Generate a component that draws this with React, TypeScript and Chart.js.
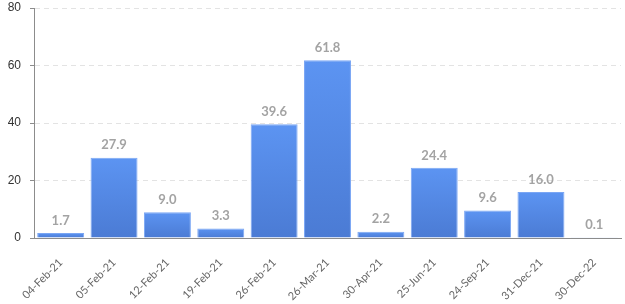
import React, { useEffect, useRef } from "react";
import { Chart, registerables } from "chart.js";

Chart.register(...registerables);

const categories = ["04-Feb-21", "05-Feb-21", "12-Feb-21", "19-Feb-21", "26-Feb-21", "26-Mar-21", "30-Apr-21", "25-Jun-21", "24-Sep-21", "31-Dec-21", "30-Dec-22"];
const values = [1.7, 27.9, 9.0, 3.3, 39.6, 61.8, 2.2, 24.4, 9.6, 16.0, 0.1];
const yTicks = [0, 20, 40, 60, 80];

const labelPlugin = {
  id: "valueLabels",
  afterDatasetsDraw(chart: any) {
    const { ctx } = chart;
    const meta = chart.getDatasetMeta(0);
    ctx.save();
    ctx.font = "bold 13px Lato";
    ctx.fillStyle = "#a3a3a3";
    ctx.textAlign = "center";
    ctx.textBaseline = "bottom";
    meta.data.forEach((bar: any, i: number) => {
      ctx.fillText(values[i].toFixed(1), bar.x, bar.y - 6);
    });
    ctx.restore();
  },
};

export default function App() {
  const ref = useRef<HTMLCanvasElement>(null);
  useEffect(() => {
    document.body.style.margin = "0";
    const chart = new Chart(ref.current!, {
      type: "bar",
      data: {
        labels: categories,
        datasets: [
          {
            data: values,
            backgroundColor: (c: any) => {
              const chart = c.chart;
              const y = chart.scales && chart.scales.y;
              if (!y || !chart.chartArea || !c.parsed || c.parsed.y === undefined) return "#5388e6";
              const top = y.getPixelForValue(c.parsed.y);
              const bottom = y.getPixelForValue(0);
              if (!Number.isFinite(top) || !Number.isFinite(bottom) || top === bottom) return "#5388e6";
              const g = chart.ctx.createLinearGradient(0, top, 0, bottom);
              g.addColorStop(0, "#5c94f2");
              g.addColorStop(1, "#4b7bd4");
              return g;
            },
            borderColor: "#7aa6f4",
            borderWidth: 1,
            borderSkipped: "bottom",
            categoryPercentage: 1,
            barPercentage: 0.88,
          },
        ],
      },
      options: {
        animation: false,
        responsive: false,
        maintainAspectRatio: false,
        layout: { padding: { top: 8, right: 4, left: 0, bottom: 0 } },
        plugins: { legend: { display: false }, tooltip: { enabled: false } },
        scales: {
          x: {
            grid: { display: false },
            border: { display: true, color: "#8c8c8c", width: 1 },
            ticks: {
              minRotation: 45,
              maxRotation: 45,
              color: "#666",
              font: { family: "Lato", size: 11 },
              padding: 10,
            },
            afterFit: (s: any) => {
              s.paddingLeft = 0;
              s.paddingRight = 0;
              s.height = 66;
            },
          },
          y: {
            min: 0,
            max: 80,
            afterBuildTicks: (axis: any) => {
              axis.ticks = yTicks.map((v) => ({ value: v }));
            },
            afterFit: (s: any) => {
              s.width = 34;
              s.paddingTop = 0;
              s.paddingBottom = 0;
            },
            grid: {
              color: "#e3e3e3",
              tickColor: "#8c8c8c",
              tickLength: 4,
              drawTicks: true,
            },
            border: { display: true, color: "#8c8c8c", width: 1, dash: [5, 4] },
            ticks: {
              color: "#333",
              font: { family: "Liberation Sans", size: 12 },
              padding: 9,
            },
          },
        },
      },
      plugins: [labelPlugin],
    });
    return () => chart.destroy();
  }, []);
  return (
    <div style={{ width: 625, height: 304 }}>
      <canvas ref={ref} width={625} height={304} style={{ display: "block" }} />
    </div>
  );
}
